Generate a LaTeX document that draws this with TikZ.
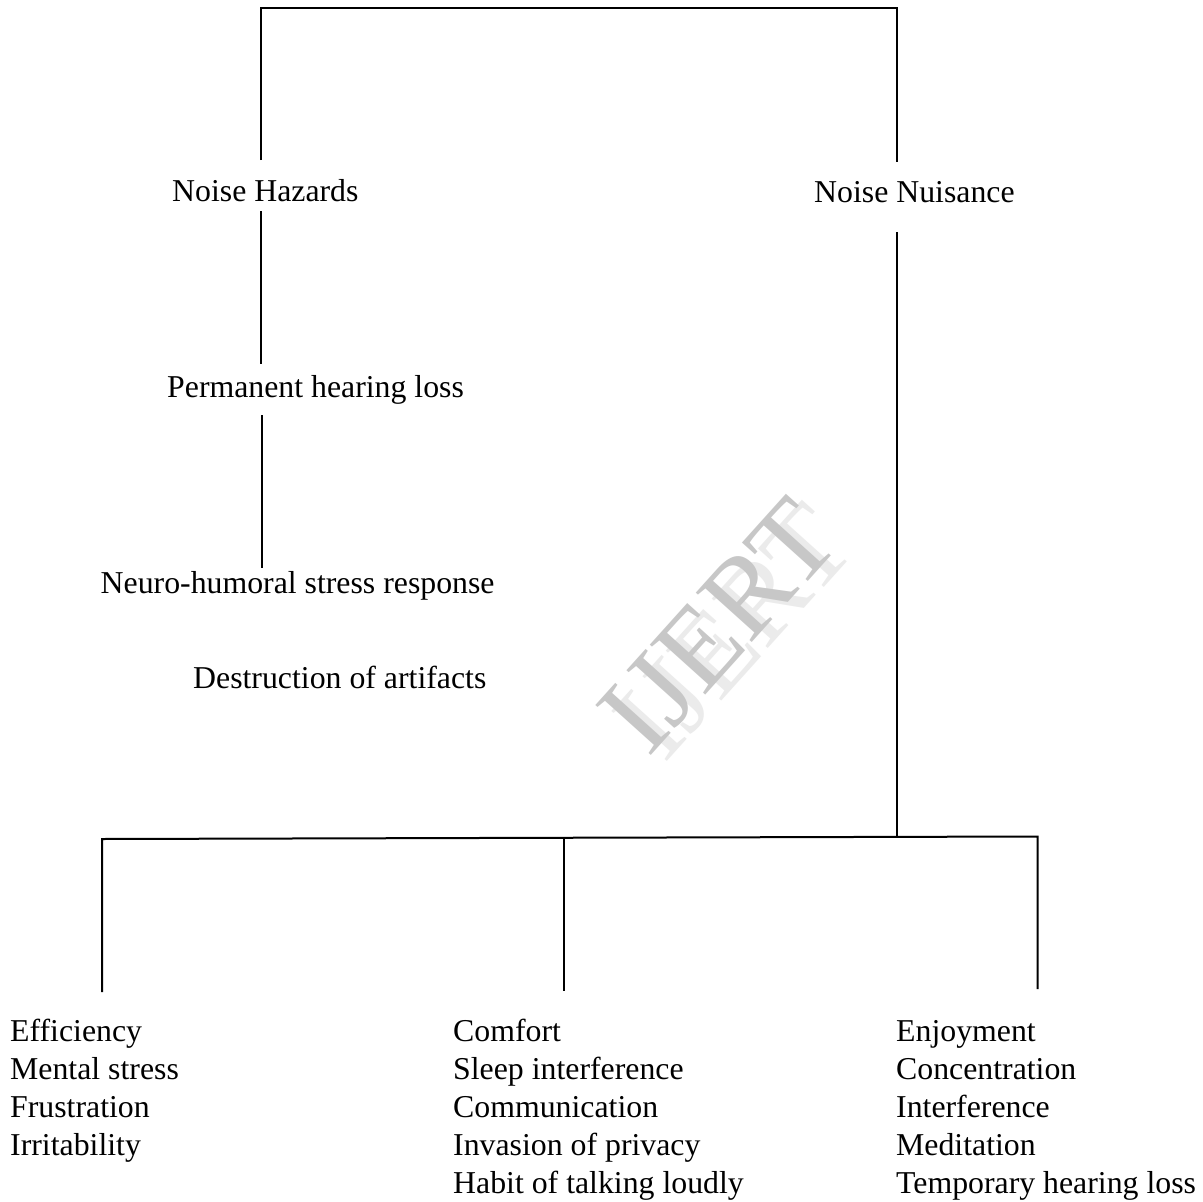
\documentclass[tikz,border=0pt]{standalone}
\usepackage{fontspec}
\setmainfont{Liberation Serif}
\begin{document}
\begin{tikzpicture}[x=1pt,y=-1pt,
  conn/.style={draw=black, line width=2pt},
  txt/.style={inner sep=0pt, anchor=base west, font=\fontsize{31.8}{38}\selectfont},
  wmark/.style={inner sep=0pt, rotate=48, font=\fontsize{114}{114}\selectfont}]
\useasboundingbox[fill=white] (0,0) rectangle (1203,1202);

% watermark
\node[wmark, text=black!8] (wmshadow) at (734,632) {IJERT};
\node[wmark, text=black!22] (wm) at (718,626) {IJERT};

% text nodes
\node[txt] (hz)  at (172,201) {Noise Hazards};
\node[txt] (nn)  at (814,202) {Noise Nuisance};
\node[txt] (phl) at (167,397) {Permanent hearing loss};
\node[txt] (nh)  at (100.5,593) {Neuro-humoral stress response};
\node[txt] (da)  at (193,688) {Destruction of artifacts};

\foreach \t [count=\i] in {Efficiency, Mental stress, Frustration, Irritability}
  \node[txt] (a\i) at (10,{1041+38*(\i-1)}) {\t};
\foreach \t [count=\i] in {Comfort, Sleep interference, Communication, Invasion of privacy, Habit of talking loudly}
  \node[txt] (b\i) at (453,{1041+38*(\i-1)}) {\t};
\foreach \t [count=\i] in {Enjoyment, Concentration, Interference, Meditation, Temporary hearing loss}
  \node[txt] (c\i) at (896,{1041+38*(\i-1)}) {\t};

% connector end points
\coordinate (hzT) at (261,160);
\coordinate (nnT) at (897,162);
\coordinate (tl) at (261,7.5);
\coordinate (tr) at (897,7.5);
\coordinate (hzB) at (261,211);
\coordinate (phlT) at (261,364);
\coordinate (phlB) at (261.5,415);
\coordinate (nhT) at (261.5,568);
\coordinate (nnB) at (897.3,232);
\coordinate (bj) at (897.3,836.7);
\coordinate (bl) at (102,839);
\coordinate (bm) at (564,837.8);
\coordinate (br) at (1037.5,836.5);
\coordinate (colA) at (102,992);
\coordinate (colB) at (564,991);
\coordinate (colC) at (1037.5,989);

% connectors
\draw[conn] (hzT) -- (tl) -- (tr) -- (nnT);
\draw[conn] (hzB) -- (phlT);
\draw[conn] (phlB) -- (nhT);
\draw[conn] (nnB) -- (bj);
\draw[conn] (colA) -- (bl) -- (br) -- (colC);
\draw[conn] (bm) -- (colB);
\end{tikzpicture}
\end{document}
